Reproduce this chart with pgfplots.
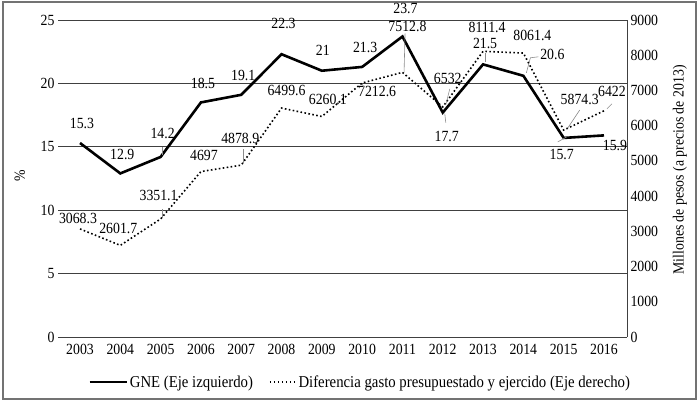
\documentclass[border=0pt]{standalone}
\usepackage{fontspec}
\setmainfont{Liberation Serif}[FakeStretch=0.89]
\usepackage{pgfplots}
\pgfplotsset{compat=1.18}

\pgfplotstableread{
year gne dif
2003 15.3 3068.3
2004 12.9 2601.7
2005 14.2 3351.1
2006 18.5 4697
2007 19.1 4878.9
2008 22.3 6499.6
2009 21.0 6260.1
2010 21.3 7212.6
2011 23.7 7512.8
2012 17.7 6532
2013 21.5 8111.4
2014 20.6 8061.4
2015 15.7 5874.3
2016 15.9 6422
}\datos

% etiqueta de dato: x, y, desplazamiento x, desplazamiento y, texto
\newcommand{\lbl}[5]{\node[inner sep=0pt] at (axis cs:#1,#2) [xshift=#3pt, yshift=#4pt] {#5};}

\pgfplotsset{
  base/.style={
    scale only axis, width=569pt, height=317pt,
    xmin=2002.454, xmax=2016.571,
    major tick length=0pt,
    clip=false,
    /pgf/number format/assume math mode=true,
    /pgf/number format/1000 sep={},
  },
  legA/.style={legend image code/.code={\draw[##1] (0pt,0pt) -- (37pt,0pt);}},
  legB/.style={legend image code/.code={\draw[##1] (0pt,0pt) -- (26pt,0pt);}},
}

\begin{document}
\begin{tikzpicture}[font=\fontsize{15.5}{17}\selectfont]
\useasboundingbox (-58pt,-65pt) rectangle (642pt,337pt);
\draw[black!55, line width=1.2pt] (-55pt,-62pt) rectangle (638pt,335pt);

\begin{axis}[base,
  ymin=0, ymax=25,
  xtick={2003,...,2016},
  ytick={0,5,...,25},
  axis line style={draw=none},
  ymajorgrids, grid style={black!75, line width=0.9pt},
  xticklabel style={yshift=-4pt},
  ylabel={\%},
  ylabel style={at={(axis description cs:-0.067,0.51)}, anchor=center},
  legend style={at={(axis description cs:0.531,-0.142)}, anchor=center,
    draw=none, fill=none, legend columns=2,
    font=\fontsize{16.6}{18}\selectfont,
    /tikz/every even column/.append style={column sep=14pt}},
]
\addplot[black, line width=2.6pt, legA] table[x=year, y=gne] {\datos};
\addlegendentry{GNE (Eje izquierdo)}
\addlegendimage{black, line width=1.6pt, dash pattern=on 1.6pt off 2.4pt, legB}
\addlegendentry{Diferencia gasto presupuestado y ejercido (Eje derecho)}

\lbl{2003}{15.3}{2}{20}{15.3}
\lbl{2004}{12.9}{2}{19}{12.9}
\lbl{2005}{14.2}{2}{23}{14.2}
\lbl{2006}{18.5}{2}{19}{18.5}
\lbl{2007}{19.1}{2}{19}{19.1}
\lbl{2008}{22.3}{2}{31}{22.3}
\lbl{2009}{21.0}{1}{20}{21}
\lbl{2010}{21.3}{3}{19}{21.3}
\lbl{2011}{23.7}{3}{28}{23.7}
\lbl{2012}{17.7}{4}{-24}{17.7}
\lbl{2013}{21.5}{2}{21}{21.5}
\lbl{2014}{20.6}{29}{21}{20.6}
\lbl{2015}{15.7}{-2}{-17}{15.7}
\lbl{2016}{15.9}{11}{-10}{15.9}

\begin{scope}[black!45, line width=0.6pt]
\draw (axis cs:2005,14.2) ++(1.4pt,10pt) -- ++(0pt,-8pt);
\draw (axis cs:2012,17.7) ++(2pt,-1pt) -- ++(1pt,-9pt);
\draw (axis cs:2013,21.5) ++(2pt,11pt) -- ++(0pt,-9pt);
\draw (axis cs:2014,20.6) ++(15pt,19pt) -- ++(-8pt,-1pt) -- ++(-4pt,-15pt);
\draw (axis cs:2015,15.7) ++(-6pt,-4pt) -- ++(9pt,5pt);
\end{scope}
\end{axis}

\begin{axis}[base,
  ymin=0, ymax=9000,
  axis x line=none,
  axis y line*=right,
  axis line style={-, black!75, line width=0.9pt},
  ytick={0,1000,...,9000},
  ylabel={Millones de pesos (a precios de 2013)},
  ylabel style={at={(axis description cs:1.093,0.527)}, anchor=center},
]
\addplot[black, line width=1.6pt, dash pattern=on 1.6pt off 2.4pt] table[x=year, y=dif] {\datos};

\lbl{2003}{3068.3}{-2}{10}{3068.3}
\lbl{2004}{2601.7}{-2}{17}{2601.7}
\lbl{2005}{3351.1}{-2}{23}{3351.1}
\lbl{2006}{4697}{3}{16}{4697}
\lbl{2007}{4878.9}{-1}{27}{4878.9}
\lbl{2008}{6499.6}{5}{18}{6499.6}
\lbl{2009}{6260.1}{6}{17}{6260.1}
\lbl{2010}{7212.6}{15}{-9}{7212.6}
\lbl{2011}{7512.8}{5}{46}{7512.8}
\lbl{2012}{6532}{5}{28}{6532}
\lbl{2013}{8111.4}{4}{24}{8111.4}
\lbl{2014}{8061.4}{9}{18}{8061.4}
\lbl{2015}{5874.3}{16}{31}{5874.3}
\lbl{2016}{6422}{8}{19}{6422}

\begin{scope}[black!45, line width=0.6pt]
\draw (axis cs:2005,3351.1) ++(1.4pt,10pt) -- ++(0pt,-9pt);
\draw (axis cs:2007,4878.9) ++(2pt,16pt) -- ++(0pt,-14pt);
\draw (axis cs:2010,7212.6) ++(0pt,-1pt) -- ++(2pt,-4pt);
\draw (axis cs:2011,7512.8) ++(2.6pt,39pt) -- ++(-1pt,-39pt);
\draw (axis cs:2012,6532) ++(7pt,18pt) -- ++(-4pt,-16pt);
\draw (axis cs:2015,5874.3) ++(16pt,20pt) -- ++(-12pt,-18pt);
\draw (axis cs:2016,6422) ++(8pt,7pt) -- ++(-5pt,-5pt);
\end{scope}
\end{axis}
\end{tikzpicture}
\end{document}
